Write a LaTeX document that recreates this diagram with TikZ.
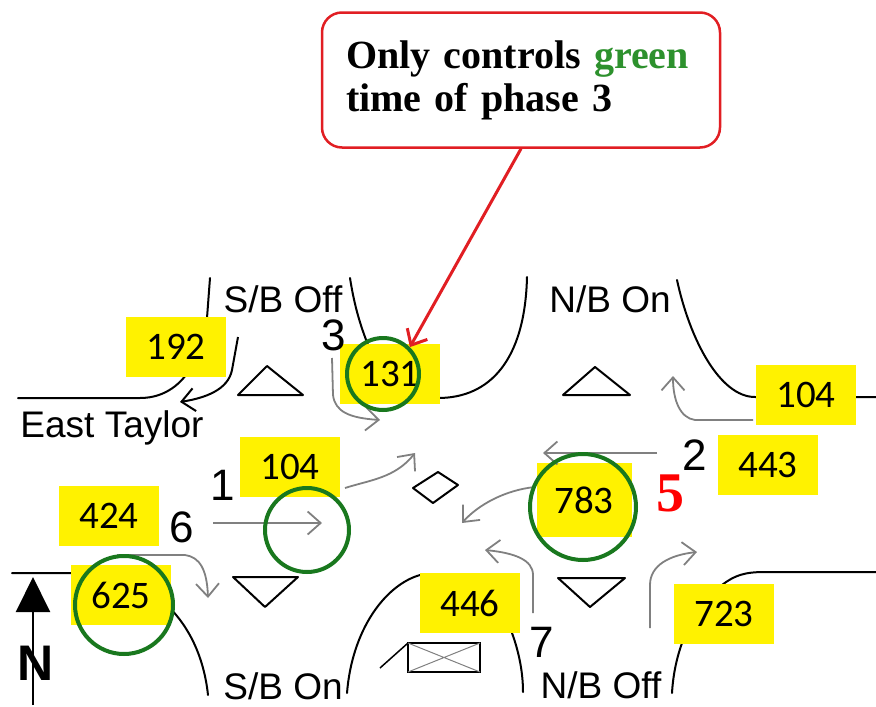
\documentclass[tikz,border=0pt]{standalone}
\usepackage{fontspec}
\setmainfont{Liberation Sans}
\newfontfamily\calibri{Carlito}
\newfontfamily\serifface{Liberation Serif}
\usetikzlibrary{arrows.meta}
\definecolor{ringgreen}{RGB}{25,120,30}
\definecolor{textgreen}{RGB}{45,145,45}
\definecolor{calloutred}{RGB}{225,30,35}

\begin{document}
\begin{tikzpicture}[x=1pt, y=-1pt,
        count/.style={fill=yellow, minimum width=100pt, minimum height=60pt, inner sep=0pt,
                      font=\calibri\fontsize{39}{42}\selectfont},
        ring/.style={draw=ringgreen, line width=4pt, circle, inner sep=0pt},
        curb/.style={line width=2pt, line cap=round},
        move/.style={draw=gray, line width=1.8pt, -{Straight Barb[length=13pt, width=23pt]}},
        road/.style={font=\fontsize{37}{40}\selectfont, anchor=base},
        phase/.style={font=\fontsize{44}{48}\selectfont, anchor=base},
    ]
    \useasboundingbox (0,0) rectangle (876,707);

    % Curbs of the interchange
    \draw[curb] (210,278) -- (207,318) .. controls (200,370) and (175,398) .. (140,398) -- (18,398);
    \draw[curb] (350,278) .. controls (355,310) and (362,330) .. (370,350);
    \draw[curb] (527,277) .. controls (525,360) and (490,398) .. (438,398);
    \draw[curb] (677,280) .. controls (690,340) and (720,397) .. (755,397) -- (876,397);
    \draw[curb] (12,573) -- (90,573) .. controls (150,575) and (200,620) .. (208,695);
    \draw[curb] (347,693) .. controls (352,630) and (385,585) .. (420,575);
    \draw[curb] (512,633) .. controls (520,655) and (523,675) .. (523,692);
    \draw[curb] (672,693) .. controls (675,640) and (700,600) .. (722,585)
        .. controls (735,575) and (745,572) .. (765,572) -- (876,572);
    \draw[line width=1.5pt] (380,668) -- (408,643);
    \draw[line width=1.5pt] (408,643) rectangle (480,672);
    \draw[gray, line width=1pt] (408,643) -- (480,672) (408,672) -- (480,643);

    % Yield triangles and median diamond
    \draw[line width=2pt, line join=round] (238,395) -- (303,395) -- (267,366) -- cycle;
    \draw[line width=2pt, line join=round] (563,395) -- (630,395) -- (595,367) -- cycle;
    \draw[line width=2pt, line join=round] (233,577) -- (298,577) -- (265,607) -- cycle;
    \draw[line width=2pt, line join=round] (558,578) -- (625,578) -- (590,607) -- cycle;
    \draw[line width=2pt, line join=round] (413,488) -- (438,472) -- (458,485) -- (433,503) -- cycle;

    % Turning volumes
    \node[count] (box192) at (176,347) {192};
    \node[count] (box131) at (390,374) {131};
    \node[count] (boxEast) at (806,395) {104};
    \node[count] (box443) at (768,465) {443};
    \node[count] (box104) at (290,467) {104};
    \node[count] (box424) at (109,516) {424};
    \node[count, minimum width=95pt, minimum height=74pt] (box783) at (584,500) {783};
    \node[count] (box625) at (121,595) {625};
    \node[count] (box446) at (470,603) {446};
    \node[count] (box723) at (724,614) {723};

    % Movements
    \draw[line width=2pt, -{Straight Barb[length=13pt, width=23pt]}]
        (238,337) -- (232,370) .. controls (228,390) and (205,398) .. (180,402);
    \draw[move] (332,358) -- (333,395) .. controls (335,412) and (350,418) .. (380,420);
    \draw[move] (345,488) .. controls (370,480) and (395,478) .. (415,453);
    \draw[move] (213,523) -- (322,523);
    \draw[move] (117,555) -- (185,555) .. controls (200,557) and (207,570) .. (208,598);
    \draw[move] (657,453) -- (543,453);
    \draw[move] (753,420) -- (695,420) .. controls (680,418) and (673,400) .. (673,376);
    \draw[move] (535,487) .. controls (505,490) and (478,505) .. (462,523);
    \draw[move] (533,613) -- (533,575) .. controls (533,560) and (515,553) .. (485,550);
    \draw[move] (650,628) -- (650,585) .. controls (650,565) and (670,555) .. (697,552);

    % Circled volumes
    \node[ring, minimum size=72pt] (ring131) at (383,374) {};
    \node[ring, minimum size=84pt] (ring104) at (307,530) {};
    \node[ring, minimum size=106pt] (ring783) at (583,507) {};
    \node[ring, minimum size=98pt] (ring625) at (124,605) {};

    % Road names and phase numbers
    \node[road] (sbOff) at (283,312) {S/B Off};
    \node[road] (nbOn) at (610,312) {N/B On};
    \node[road] (taylor) at (112,437) {East Taylor};
    \node[road] (sbOn) at (283,699) {S/B On};
    \node[road] (nbOff) at (601,698) {N/B Off};
    \node[phase] (ph3) at (334,350) {3};
    \node[phase] (ph1) at (223,500) {1};
    \node[phase] (ph6) at (182,542) {6};
    \node[phase] (ph2) at (695,470) {2};
    \node[phase] (ph7) at (542,657) {7};
    \node[anchor=base, text=red, font=\serifface\bfseries\fontsize{56}{60}\selectfont] (ph5) at (670,511) {5};

    % North arrow
    \coordinate (ntail) at (33,705);
    \coordinate (nhead) at (33,577);
    \draw[line width=2pt, -{Triangle[length=35pt, width=34pt]}] (ntail) -- (nhead);
    \node[anchor=base, font=\bfseries\fontsize{50}{54}\selectfont] (north) at (36,680) {N};

    % Callout
    \node[draw=calloutred, line width=2.5pt, rounded corners=20pt, fill=white,
          minimum width=398pt, minimum height=135pt, inner sep=0pt,
          text width=350pt, align=left,
          font=\serifface\bfseries\fontsize{40}{43}\selectfont] (callout) at (521,80)
        {Only controls \textcolor{textgreen}{green}\\time of phase 3};
    \draw[calloutred, line width=3pt, -{Straight Barb[length=13pt, width=23pt]}]
        (callout.south) -- (ring131.north east);
\end{tikzpicture}
\end{document}
